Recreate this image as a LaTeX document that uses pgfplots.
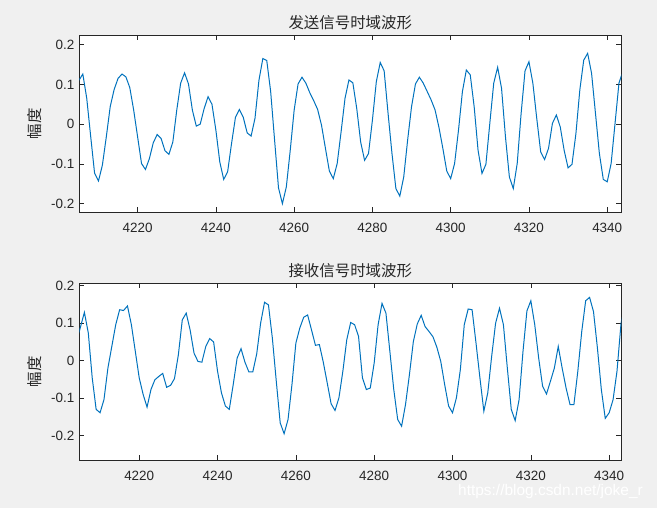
\documentclass[border=0pt]{standalone}
\usepackage{fontspec}
\setmainfont{Liberation Sans}
\newfontfamily\cjk{Noto Sans CJK SC}
\usepackage{pgfplots}
\usepackage{pgfplotstable}
\pgfplotsset{compat=1.18}
\definecolor{mlblue}{HTML}{0072BD}
\definecolor{mlaxis}{HTML}{262626}
\definecolor{figbg}{HTML}{F0F0F0}

% sent signal
\pgfplotstableread{
x y
4204 0.090
4205 0.110
4206 0.126
4207 0.065
4208 -0.030
4209 -0.123
4210 -0.143
4211 -0.103
4212 -0.032
4213 0.044
4214 0.087
4215 0.115
4216 0.126
4217 0.119
4218 0.092
4219 0.035
4220 -0.032
4221 -0.099
4222 -0.114
4223 -0.087
4224 -0.047
4225 -0.026
4226 -0.036
4227 -0.067
4228 -0.076
4229 -0.045
4230 0.035
4231 0.103
4232 0.129
4233 0.101
4234 0.035
4235 -0.005
4236 0.000
4237 0.039
4238 0.069
4239 0.050
4240 -0.015
4241 -0.095
4242 -0.139
4243 -0.120
4244 -0.049
4245 0.017
4246 0.037
4247 0.017
4248 -0.022
4249 -0.030
4250 0.015
4251 0.110
4252 0.165
4253 0.160
4254 0.082
4255 -0.040
4256 -0.160
4257 -0.200
4258 -0.158
4259 -0.066
4260 0.035
4261 0.101
4262 0.118
4263 0.103
4264 0.079
4265 0.059
4266 0.037
4267 -0.003
4268 -0.061
4269 -0.118
4270 -0.137
4271 -0.099
4272 -0.019
4273 0.065
4274 0.111
4275 0.104
4276 0.039
4277 -0.045
4278 -0.091
4279 -0.074
4280 0.010
4281 0.107
4282 0.155
4283 0.134
4284 0.027
4285 -0.074
4286 -0.162
4287 -0.181
4288 -0.133
4289 -0.040
4290 0.044
4291 0.101
4292 0.118
4293 0.103
4294 0.082
4295 0.061
4296 0.036
4297 -0.008
4298 -0.061
4299 -0.118
4300 -0.137
4301 -0.099
4302 -0.015
4303 0.082
4304 0.136
4305 0.124
4306 0.044
4307 -0.066
4308 -0.124
4309 -0.101
4310 0.002
4311 0.103
4312 0.143
4313 0.090
4314 -0.032
4315 -0.133
4316 -0.162
4317 -0.099
4318 0.027
4319 0.134
4320 0.157
4321 0.103
4322 0.014
4323 -0.070
4324 -0.089
4325 -0.061
4326 0.002
4327 0.023
4328 -0.007
4329 -0.066
4330 -0.110
4331 -0.101
4332 -0.024
4333 0.086
4334 0.161
4335 0.178
4336 0.128
4337 0.027
4338 -0.074
4339 -0.139
4340 -0.145
4341 -0.099
4342 0.002
4343 0.103
4344 0.133
}\sent

% received signal
\pgfplotstableread{
x y
4204 0.050
4205 0.090
4206 0.129
4207 0.074
4208 -0.046
4209 -0.130
4210 -0.139
4211 -0.104
4212 -0.020
4213 0.038
4214 0.096
4215 0.136
4216 0.134
4217 0.146
4218 0.096
4219 0.025
4220 -0.046
4221 -0.090
4222 -0.124
4223 -0.077
4224 -0.051
4225 -0.042
4226 -0.034
4227 -0.071
4228 -0.066
4229 -0.048
4230 0.016
4231 0.109
4232 0.127
4233 0.082
4234 0.020
4235 -0.002
4236 -0.004
4237 0.038
4238 0.059
4239 0.050
4240 -0.028
4241 -0.086
4242 -0.121
4243 -0.130
4244 -0.064
4245 0.007
4246 0.032
4247 -0.004
4248 -0.030
4249 -0.030
4250 0.018
4251 0.100
4252 0.156
4253 0.149
4254 0.060
4255 -0.055
4256 -0.166
4257 -0.195
4258 -0.157
4259 -0.064
4260 0.047
4261 0.087
4262 0.116
4263 0.122
4264 0.082
4265 0.041
4266 0.043
4267 -0.004
4268 -0.059
4269 -0.115
4270 -0.133
4271 -0.099
4272 -0.028
4273 0.056
4274 0.102
4275 0.096
4276 0.065
4277 -0.046
4278 -0.077
4279 -0.073
4280 -0.006
4281 0.096
4282 0.153
4283 0.127
4284 0.025
4285 -0.077
4286 -0.157
4287 -0.175
4288 -0.117
4289 -0.037
4290 0.051
4291 0.098
4292 0.121
4293 0.091
4294 0.078
4295 0.064
4296 0.036
4297 -0.002
4298 -0.064
4299 -0.121
4300 -0.139
4301 -0.099
4302 -0.024
4303 0.096
4304 0.138
4305 0.136
4306 0.047
4307 -0.046
4308 -0.135
4309 -0.086
4310 0.012
4311 0.100
4312 0.140
4313 0.096
4314 -0.020
4315 -0.130
4316 -0.160
4317 -0.104
4318 0.025
4319 0.133
4320 0.160
4321 0.096
4322 0.007
4323 -0.068
4324 -0.089
4325 -0.055
4326 -0.020
4327 0.038
4328 -0.020
4329 -0.073
4330 -0.117
4331 -0.117
4332 -0.028
4333 0.078
4334 0.160
4335 0.169
4336 0.131
4337 0.034
4338 -0.077
4339 -0.154
4340 -0.139
4341 -0.104
4342 -0.028
4343 0.096
4344 0.170
}\received

\pgfplotsset{
  mlstyle/.style={
    scale only axis,
    width=542bp, height=177bp,
    anchor=north west,
    axis background/.style={fill=white},
    axis line style={mlaxis, line width=0.6bp},
    tick style={mlaxis, line width=0.6bp},
    tick align=inside,
    major tick length=5bp,
    xtick={4220,4240,...,4340},
    ytick={-0.2,-0.1,0,0.1,0.2},
    ticklabel style={font=\fontsize{13.5}{15}\selectfont, text=mlaxis},
    /pgf/number format/assume math mode=true,
    /pgf/number format/1000 sep={},
    xticklabel style={yshift=-7.5bp},
    yticklabel style={xshift=-1.5bp},
    every axis title/.style={at={(0.5,1)}, anchor=center, yshift=13bp,
      font=\cjk\fontsize{15.5}{17}\selectfont, text=mlaxis},
    every axis y label/.style={at={(0,0.5)}, xshift=-44.5bp, rotate=90,
      anchor=center, font=\cjk\fontsize{15.5}{17}\selectfont, text=mlaxis},
  },
  wave/.style={draw=mlblue, line width=1bp, no marks},
}

\begin{document}
\begin{tikzpicture}
\fill[figbg] (0bp,0bp) rectangle (657bp,-508bp);

\begin{axis}[mlstyle, at={(79.3bp,-35.3bp)},
  xmin=4205.1, xmax=4343.6, ymin=-0.2217, ymax=0.2234,
  title={发送信号时域波形}, ylabel={幅度}]
\addplot[wave] table[x=x, y=y] {\sent};
\end{axis}

\begin{axis}[mlstyle, at={(79.3bp,-283.3bp)},
  xmin=4204.7, xmax=4343.1, ymin=-0.266, ymax=0.2066,
  title={接收信号时域波形}, ylabel={幅度}]
\addplot[wave] table[x=x, y=y] {\received};
\end{axis}

\node[anchor=base west, text=white, inner sep=0pt,
  font=\fontsize{15.5}{17}\selectfont] at (458bp,-495bp)
  {https://blog.csdn.net/joke\_r};
\end{tikzpicture}
\end{document}
